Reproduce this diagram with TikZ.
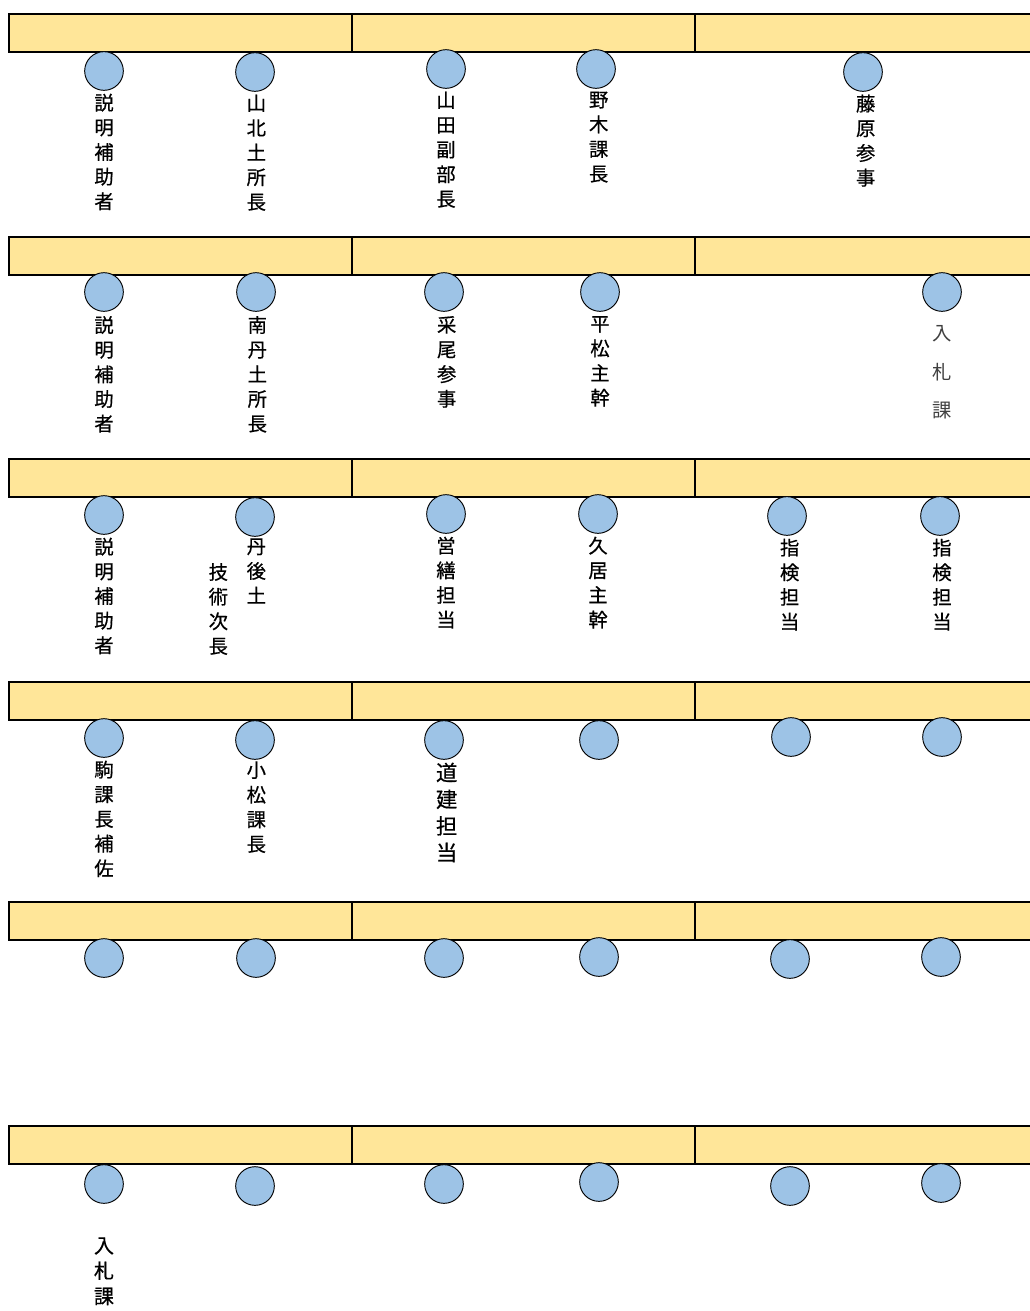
\documentclass[tikz,border=0pt]{standalone}
\usepackage{fontspec}
\usepackage{tikz}
\usetikzlibrary{positioning}
\newfontfamily\jpfont[FakeBold=0.6]{Noto Sans CJK JP}
\newfontfamily\jplight{Noto Sans CJK JP}
\definecolor{deskyellow}{RGB}{255,230,153}
\definecolor{seatblue}{RGB}{157,195,230}

\begin{document}
\begin{tikzpicture}[x=0.75pt,y=-0.75pt,
    desk/.style={draw=black,line width=1.4pt},
    seat/.style={circle,draw=black,fill=seatblue,minimum size=29pt,inner sep=0pt,line width=0.7pt},
    namelbl/.style={font=\jpfont\fontsize{14.5}{18.5}\selectfont,align=center,anchor=north,inner sep=0pt}]
    \useasboundingbox (0,0) rectangle (1030,1311);

    % Desks (each row split in three)
    \foreach \ytop in {14,237,459,682,902,1126} {
        \fill[deskyellow] (9,\ytop) rectangle (1040,\ytop+38);
        \draw[desk] (1040,\ytop) -- (9,\ytop) -- (9,\ytop+38) -- (1040,\ytop+38);
        \draw[line width=1pt] (352,\ytop) -- (352,\ytop+38);
        \draw[line width=1pt] (695,\ytop) -- (695,\ytop+38);
    }

    % Seats
    \foreach \pt/\x/\y in {s11/104/71,s12/255/72,s13/446/69,s14/596/69,s15/863/72,
                           s21/104/292,s22/256/292,s23/444/292,s24/600/292,s25/942/292,
                           s31/104/515,s32/255/517,s33/446/514,s34/598/514,s35/787/516,s36/940/516,
                           s41/104/738,s42/255/740,s43/444/740,s44/599/740,s45/791/737,s46/942/737,
                           s51/104/958,s52/256/958,s53/444/958,s54/599/957,s55/790/959,s56/941/957,
                           s61/104/1184,s62/255/1186,s63/444/1184,s64/599/1182,s65/790/1186,s66/941/1183}
        \node[seat] (\pt) at (\x,\y) {};

    % Names
    \node[namelbl,below=2pt of s11] (n11) {説\\明\\補\\助\\者};
    \node[namelbl,below=2pt of s12,xshift=1pt] (n12) {山\\北\\土\\所\\長};
    \node[namelbl,below=2pt of s13] (n13) {山\\田\\副\\部\\長};
    \node[namelbl,below=2pt of s14,xshift=2pt] (n14) {野\\木\\課\\長};
    \node[namelbl,below=2pt of s15,xshift=2pt] (n15) {藤\\原\\参\\事};

    \node[namelbl,below=3pt of s21] (n21) {説\\明\\補\\助\\者};
    \node[namelbl,below=3pt of s22,xshift=1pt] (n22) {南\\丹\\土\\所\\長};
    \node[namelbl,below=3pt of s23,xshift=2pt] (n23) {采\\尾\\参\\事};
    \node[namelbl,below=3pt of s24] (n24) {平\\松\\主\\幹};
    \node[namelbl,below=10pt of s25,font=\jplight\fontsize{14.5}{29}\selectfont,text=black!75] (n25) {入\\札\\課};

    \node[namelbl,below=2pt of s31] (n31) {説\\明\\補\\助\\者};
    \node[namelbl,below=1pt of s32,xshift=1pt] (n32) {丹\\後\\土};
    \node[namelbl] (n32b) at ([shift={(-38,24.7)}]n32.north) {技\\術\\次\\長};
    \node[namelbl,below=2pt of s33] (n33) {営\\繕\\担\\当};
    \node[namelbl,below=2pt of s34] (n34) {久\\居\\主\\幹};
    \node[namelbl,below=2pt of s35,xshift=2pt] (n35) {指\\検\\担\\当};
    \node[namelbl,below=2pt of s36,xshift=1.5pt] (n36) {指\\検\\担\\当};

    \node[namelbl,below=2pt of s41] (n41) {駒\\課\\長\\補\\佐};
    \node[namelbl,below=1pt of s42,xshift=1pt] (n42) {小\\松\\課\\長};
    \node[namelbl,below=2pt of s43,xshift=2pt,font=\jpfont\fontsize{16}{20}\selectfont] (n43) {道\\建\\担\\当};

    \node[namelbl,below=25pt of s61,font=\jpfont\fontsize{15}{19}\selectfont] (n61) {入\\札\\課};
\end{tikzpicture}
\end{document}
